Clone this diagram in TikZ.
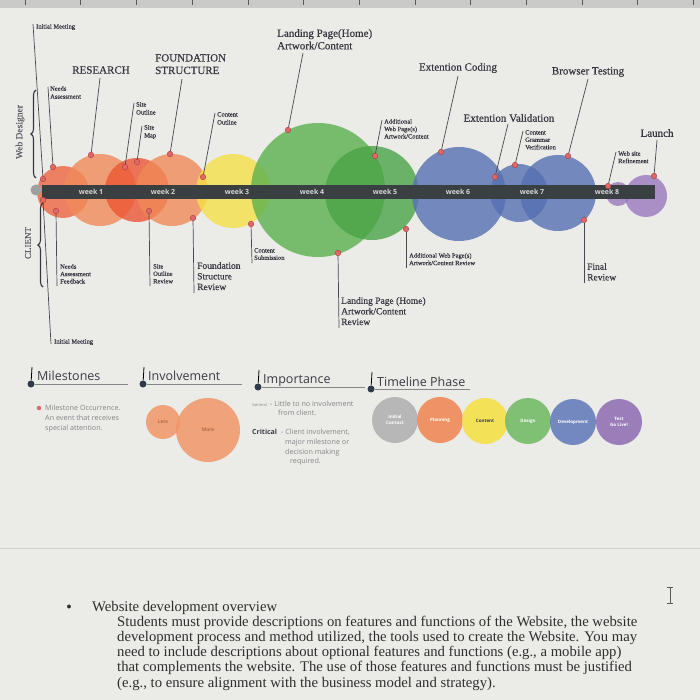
\documentclass[tikz,border=0pt]{standalone}
\usepackage{fontspec}
\setmainfont{Liberation Serif}
\newfontfamily\legfont{Open Sans}
\newfontfamily\labfont[FakeBold=0.5]{Liberation Serif}
\usetikzlibrary{decorations.pathreplacing}
\definecolor{bg}{HTML}{EBEBE7}
\definecolor{ruler}{HTML}{CACAC8}
\definecolor{labc}{HTML}{363642}
\definecolor{leadc}{HTML}{4A4652}
\definecolor{msfill}{HTML}{E06868}
\definecolor{msdraw}{HTML}{B04444}
\definecolor{barc}{HTML}{3A4042}
\definecolor{weekc}{HTML}{D6D6D6}
\definecolor{cor}{HTML}{F08A58}
\definecolor{cro}{HTML}{EE6642}
\definecolor{cred}{HTML}{EC5634}
\definecolor{cyel}{HTML}{F4E048}
\definecolor{cgrn}{HTML}{5BB04F}
\definecolor{cgrn2}{HTML}{4AA447}
\definecolor{cblu}{HTML}{5670B2}
\definecolor{cpur}{HTML}{9A78BE}
\definecolor{legc}{HTML}{3A3A46}
\definecolor{legg}{HTML}{85858A}
\definecolor{pin}{HTML}{2F3B4B}
\definecolor{doc}{HTML}{2E2E30}
\begin{document}
\begin{tikzpicture}[x=1pt,y=-1pt,
 lab/.style={inner sep=0pt, text=labc, align=left, font=\labfont\fontsize{6.5}{8}\selectfont},
 labt/.style={inner sep=0pt, text=labc, align=left, font=\labfont\fontsize{6.5}{7.4}\selectfont},
 big/.style={inner sep=0pt, text=labc, align=left, font=\labfont\fontsize{11}{12.5}\selectfont},
 mid/.style={inner sep=0pt, text=labc, align=left, font=\labfont\fontsize{9.5}{10.6}\selectfont},
 ms/.style={circle, inner sep=0pt, minimum size=5.5pt, fill=msfill, draw=msdraw, line width=0.5pt},
 lead/.style={draw=leadc, line width=0.7pt},
 blob/.style={fill opacity=0.8},
 wk/.style={inner sep=0pt, text=weekc, font=\legfont\bfseries\fontsize{7}{8}\selectfont},
 brc/.style={draw=labc, line width=1.1pt, decorate, decoration={brace, amplitude=5pt}},
 hdr/.style={inner sep=0pt, text=legc, anchor=base west, font=\legfont\fontsize{12.5}{14}\selectfont},
 pinl/.style={draw=legg, line width=0.8pt},
 pind/.style={circle, inner sep=0pt, minimum size=7pt, fill=pin},
 leg/.style={inner sep=0pt, text=legg, anchor=base west, font=\legfont\fontsize{7.2}{8}\selectfont},
 ph/.style={circle, inner sep=0pt, minimum size=46pt, fill opacity=0.9, text opacity=1, text=white, align=center, font=\legfont\bfseries\fontsize{4.5}{5.5}\selectfont},
 dtxt/.style={inner sep=0pt, text=doc, anchor=base west, font=\fontsize{14.7}{16}\selectfont}
]
\useasboundingbox (0,0) rectangle (700,700);
\fill[bg] (0,0) rectangle (700,700);
\fill[ruler] (0,0) rectangle (700,8);
\foreach \k in {0,...,12} {\draw[gray!70!black, line width=0.5pt] ({25+55.7*\k},0) -- ({25+55.7*\k},5);}
\draw[gray!35, line width=1pt] (0,548) -- (700,548);

% circles
\fill[cro,blob] (63,192) circle (26);
\fill[cor,blob] (100,190) circle (36);
\fill[cred,blob] (137,190) circle (32);
\fill[cor,blob] (172,190) circle (36);
\fill[cyel,blob] (233,191) circle (37);
\fill[cgrn,blob] (318,190) circle (67);
\fill[cgrn2,blob] (372,193) circle (47);
\fill[cblu,blob] (459,194) circle (47);
\fill[cblu,blob] (519,193) circle (29);
\fill[cblu,blob] (558,193) circle (38);
\fill[cpur,blob] (618,194) circle (12);
\fill[cpur,blob] (646,196) circle (21);

% bar
\fill[barc] (42,185) rectangle (655,199);
\node[circle, inner sep=0pt, minimum size=11pt, fill=gray!75] (start) at (36,190) {};
\node[wk] (w1) at (91,192) {week 1};
\node[wk] (w2) at (163,192) {week 2};
\node[wk] (w3) at (237,192) {week 3};
\node[wk] (w4) at (312,192) {week 4};
\node[wk] (w5) at (385,192) {week 5};
\node[wk] (w6) at (458,192) {week 6};
\node[wk] (w7) at (532,192) {week 7};
\node[wk] (w8) at (607,192) {week 8};

% braces
\draw[brc] (36,178) -- (36,90);
\draw[brc] (43,287) -- (43,203);
\node[inner sep=0pt, text=labc!80, rotate=90, font=\labfont\fontsize{9.5}{11}\selectfont] (wd) at (20,132) {Web Designer};
\node[inner sep=0pt, text=labc!80, rotate=90, font=\labfont\fontsize{9}{11}\selectfont] (cl) at (28,243) {CLIENT};

% milestone dots
\node[ms] (m1) at (43,179) {};
\node[ms] (m2) at (53,167) {};
\node[ms] (m3) at (91,155) {};
\node[ms] (m4) at (125,167) {};
\node[ms] (m5) at (137,162) {};
\node[ms] (m6) at (170,154) {};
\node[ms] (m7) at (203,177) {};
\node[ms] (m8) at (288,130) {};
\node[ms] (m9) at (375,156) {};
\node[ms] (m10) at (441,152) {};
\node[ms] (m11) at (495,177) {};
\node[ms] (m12) at (515,165) {};
\node[ms] (m13) at (568,156) {};
\node[ms] (m14) at (608,186) {};
\node[ms] (m15) at (654,176) {};
\node[ms] (m16) at (56,211) {};
\node[ms] (m17) at (149,211) {};
\node[ms] (m18) at (193,218) {};
\node[ms] (m19) at (251,224) {};
\node[ms] (m20) at (338,253) {};
\node[ms] (m21) at (406,229) {};
\node[ms] (m22) at (584,220) {};
\node[ms] (m23) at (43,200) {};

% top labels
\node[lab, anchor=west] (t1) at (36,27) {Initial Meeting};
\coordinate (im0) at (33,24);
\draw[lead] (im0) -- (m1);
\node[lab, anchor=north west] (t2) at (50,86) {Needs\\Assessment};
\coordinate (n0) at (48,87);
\draw[lead] (n0) -- (m2);
\node[big] (t3) at (101,70) {RESEARCH};
\coordinate (r0) at (100,78);
\draw[lead] (r0) -- (m3);
\node[lab, anchor=north west] (t4) at (136,102) {Site\\Outline};
\coordinate (s0) at (134,103);
\draw[lead] (s0) -- (m4);
\node[lab, anchor=north west] (t5) at (144,125) {Site\\Map};
\coordinate (sm0) at (142,126);
\draw[lead] (sm0) -- (m5);
\node[big, anchor=north west] (t6) at (155,54) {FOUNDATION\\STRUCTURE};
\coordinate (f0) at (182,79);
\draw[lead] (f0) -- (m6);
\node[lab, anchor=north west] (t7) at (217,112) {Content\\Outline};
\coordinate (co0) at (215,113);
\draw[lead] (co0) -- (m7);
\node[big, anchor=north west] (t8) at (277,29) {Landing Page(Home)\\Artwork/Content};
\coordinate (lp0) at (303,53);
\draw[lead] (lp0) -- (m8);
\node[labt, anchor=north west] (t9) at (384,119) {Additional\\Web Page(s)\\Artwork/Content};
\coordinate (ad0) at (382,120);
\draw[lead] (ad0) -- (m9);
\node[big] (t10) at (458,68) {Extention Coding};
\coordinate (ec0) at (458,76);
\draw[lead] (ec0) -- (m10);
\node[big] (t11) at (509,118) {Extention Validation};
\coordinate (ev0) at (508,124);
\draw[lead] (ev0) -- (m11);
\node[labt, anchor=north west] (t12) at (525,130) {Content\\Grammar\\Verification};
\coordinate (cg0) at (523,131);
\draw[lead] (cg0) -- (m12);
\node[big] (t13) at (588,72) {Browser Testing};
\coordinate (bt0) at (588,79);
\draw[lead] (bt0) -- (m13);
\node[labt, anchor=north west] (t14) at (618,151) {Web site\\Refinement};
\coordinate (ws0) at (616,152);
\draw[lead] (ws0) -- (m14);
\node[big] (t15) at (657,133) {Launch};
\coordinate (la0) at (657,140);
\draw[lead] (la0) -- (m15);

% bottom labels
\node[labt, anchor=north west] (b1) at (60,264) {Needs\\Assessment\\Feedback};
\coordinate (nf0) at (57,286);
\draw[lead] (m16) -- (nf0);
\node[labt, anchor=north west] (b2) at (153,264) {Site\\Outline\\Review};
\coordinate (so0) at (150,286);
\draw[lead] (m17) -- (so0);
\node[mid, anchor=north west] (b3) at (197,262) {Foundation\\Structure\\Review};
\coordinate (fs0) at (194,293);
\draw[lead] (m18) -- (fs0);
\node[labt, anchor=north west] (b4) at (254,248) {Content\\Submission};
\coordinate (cs0) at (252,263);
\draw[lead] (m19) -- (cs0);
\node[mid, anchor=north west] (b5) at (341,297) {Landing Page (Home)\\Artwork/Content\\Review};
\coordinate (lr0) at (339,328);
\draw[lead] (m20) -- (lr0);
\node[labt, anchor=north west] (b6) at (409,253) {Additional Web Page(s)\\Artwork/Content Review};
\coordinate (aw0) at (406,268);
\draw[lead] (m21) -- (aw0);
\node[mid, anchor=north west] (b7) at (587,263) {Final\\Review};
\coordinate (fr0) at (584,283);
\draw[lead] (m22) -- (fr0);
\node[lab, anchor=west] (b8) at (54,342) {Initial Meeting};
\coordinate (imb0) at (51,344);
\draw[lead] (m23) -- (imb0);

% legend headers
\node[hdr] (h1) at (37,380) {Milestones};
\node[pind] (p1) at (31,384) {};
\coordinate (p1t) at (32,367);
\coordinate (p1e) at (128,384);
\draw[pinl] (p1) -- (p1e);
\draw[pin, line width=0.8pt] (p1) -- (p1t);
\node[hdr] (h2) at (148,380) {Involvement};
\node[pind] (p2) at (143,384) {};
\coordinate (p2t) at (144,367);
\coordinate (p2e) at (242,384);
\draw[pinl] (p2) -- (p2e);
\draw[pin, line width=0.8pt] (p2) -- (p2t);
\node[hdr] (h3) at (263,383) {Importance};
\node[pind] (p3) at (258,387) {};
\coordinate (p3t) at (259,370);
\coordinate (p3e) at (365,387);
\draw[pinl] (p3) -- (p3e);
\draw[pin, line width=0.8pt] (p3) -- (p3t);
\node[hdr] (h4) at (377,386) {Timeline Phase};
\node[pind] (p4) at (371,389) {};
\coordinate (p4t) at (372,372);
\coordinate (p4e) at (470,389);
\draw[pinl] (p4) -- (p4e);
\draw[pin, line width=0.8pt] (p4) -- (p4t);

% milestones legend
\node[circle, inner sep=0pt, minimum size=4.5pt, fill=msfill] (lm) at (39,408) {};
\node[leg] (l1) at (45,410) {Milestone Occurrence.};
\node[leg] (l2) at (45,420) {An event that receives};
\node[leg] (l3) at (45,430) {special attention.};

% involvement legend
\node[circle, inner sep=0pt, minimum size=34pt, fill=cor!90, fill opacity=0.85, text opacity=1, text=cor!60!black, font=\legfont\fontsize{5}{6}\selectfont] (less) at (163,422) {Less};
\node[circle, inner sep=0pt, minimum size=64pt, fill=cor!90, fill opacity=0.85, text opacity=1, text=cor!60!black, font=\legfont\fontsize{5}{6}\selectfont] (more) at (208,430) {More};

% importance legend
\node[leg, font=\legfont\fontsize{4}{5}\selectfont] (g1) at (252,406) {General};
\node[leg] (g2) at (270,406) {- Little to no involvement};
\node[leg] (g3) at (278,415) {from client.};
\node[leg, text=legc, font=\legfont\bfseries\fontsize{7}{8}\selectfont] (c1) at (252,434) {Critical};
\node[leg] (c2) at (281,434) {- Client involvement,};
\node[leg] (c3) at (285,444) {major milestone or};
\node[leg] (c4) at (285,454) {decision making};
\node[leg] (c5) at (290,463) {required.};

% timeline phases
\node[ph, fill=gray!60] (ph1) at (395,420) {Initial\\Contact};
\node[ph, fill=cor] (ph2) at (440,420) {Planning};
\node[ph, fill=cyel, text=labc] (ph3) at (485,421) {Content};
\node[ph, fill=cgrn!85!white] (ph4) at (528,421) {Design};
\node[ph, fill=cblu!90!white] (ph5) at (573,422) {Development};
\node[ph, fill=cpur!95!black] (ph6) at (619,422) {Test\\Go Live!};

% document text
\node[inner sep=0pt, text=doc, font=\fontsize{10}{12}\selectfont] (bul) at (69,607) {$\bullet$};
\node[dtxt] (d0) at (92,611) {Website development overview};
\node[dtxt] (d1) at (117,626) {Students must provide descriptions on features and functions of the Website, the website};
\node[dtxt] (d2) at (117,641) {development process and method utilized, the tools used to create the Website. You may};
\node[dtxt] (d3) at (117,656) {need to include descriptions about optional features and functions (e.g., a mobile app)};
\node[dtxt] (d4) at (117,671) {that complements the website. The use of those features and functions must be justified};
\node[dtxt] (d5) at (117,687) {(e.g., to ensure alignment with the business model and strategy).};

% I-beam cursor
\draw[doc!80, line width=0.7pt] (670,587) -- (670,603) (667,587) -- (673,587) (667,603) -- (673,603);
\end{tikzpicture}
\end{document}
